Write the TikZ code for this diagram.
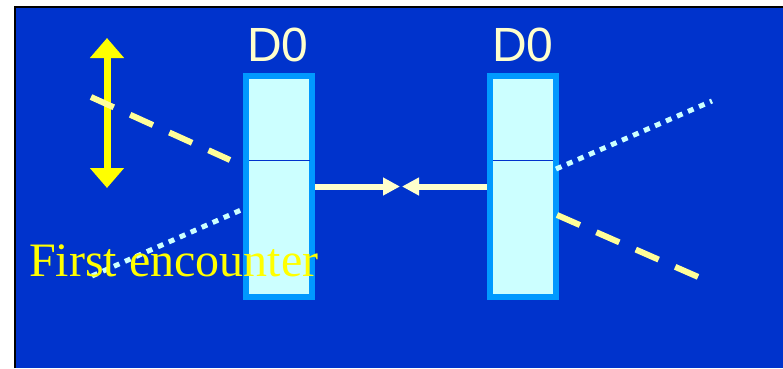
\documentclass[tikz,border=0pt]{standalone}
\usepackage{fontspec}
\setmainfont{Liberation Serif}
\newfontfamily\arialfont{Liberation Sans}
\usetikzlibrary{arrows.meta}
\definecolor{bgblue}{HTML}{0033CC}
\definecolor{boxedge}{HTML}{0099FF}
\definecolor{boxfill}{HTML}{CCFFFF}
\definecolor{paleyellow}{HTML}{FFFFCC}
\definecolor{dashyellow}{HTML}{FFFF99}
\definecolor{brightyellow}{HTML}{FFFF00}
\tikzset{
  detector/.style={draw=boxedge, fill=boxfill, line width=6bp, minimum width=66bp, minimum height=221bp, inner sep=0pt},
  dlabel/.style={font=\arialfont\fontsize{48bp}{50bp}\selectfont, text=paleyellow, inner sep=0pt, anchor=base},
  dashtrack/.style={draw=dashyellow, line width=6bp, dash pattern=on 25bp off 18bp},
  dottrack/.style={draw=boxfill, line width=5bp, dash pattern=on 6bp off 6bp},
  pusharrow/.style={draw=paleyellow, line width=6bp, -{Triangle[width=17bp,length=17bp]}},
  divider/.style={draw=bgblue, line width=1bp},
}
\begin{document}
\begin{tikzpicture}[x=1bp,y=-1bp]
\useasboundingbox (0,0) rectangle (783,368);
\fill[white] (0,0) rectangle (783,368);
\fill[bgblue] (15,7) rectangle (783,368);
\draw[black, line width=2bp] (15,368) -- (15,7) -- (783,7);

% yellow double arrow
\coordinate (vt) at (107,38);
\coordinate (vb) at (107,188);
\draw[brightyellow, line width=7bp, {Triangle[width=33bp,length=20bp]}-{Triangle[width=33bp,length=20bp]}] (vt) -- (vb);

% tracks
\coordinate (ld1) at (91,97);
\coordinate (ld2) at (230,160);
\coordinate (lp1) at (92,276);
\coordinate (lp2) at (241,210);
\coordinate (rp1) at (556,169);
\coordinate (rp2) at (712,101);
\coordinate (rd1) at (557,215);
\coordinate (rd2) at (712,283);
\draw[dashtrack] (ld1) -- (ld2);
\draw[dottrack] (lp1) -- (lp2);

% detectors
\node[detector] (boxL) at (279,186.5) {};
\node[detector] (boxR) at (523,186.5) {};
\draw[divider] (249,160) -- (310,160);
\draw[divider] (493,160) -- (553,160);

\draw[dottrack] (rp1) -- (rp2);
\draw[dashtrack] (rd1) -- (rd2);

\node[dlabel] (labL) at (278,61) {D0};
\node[dlabel] (labR) at (523,61) {D0};

% arrows meeting
\coordinate (midL) at (400,186.5);
\coordinate (midR) at (402,186.5);
\draw[pusharrow] (boxL.east) -- (midL);
\draw[pusharrow] (boxR.west) -- (midR);

\node[font=\fontsize{48bp}{50bp}\selectfont, text=brightyellow, inner sep=0pt, anchor=base west] (first) at (29,276) {First encounter};
\end{tikzpicture}
\end{document}
